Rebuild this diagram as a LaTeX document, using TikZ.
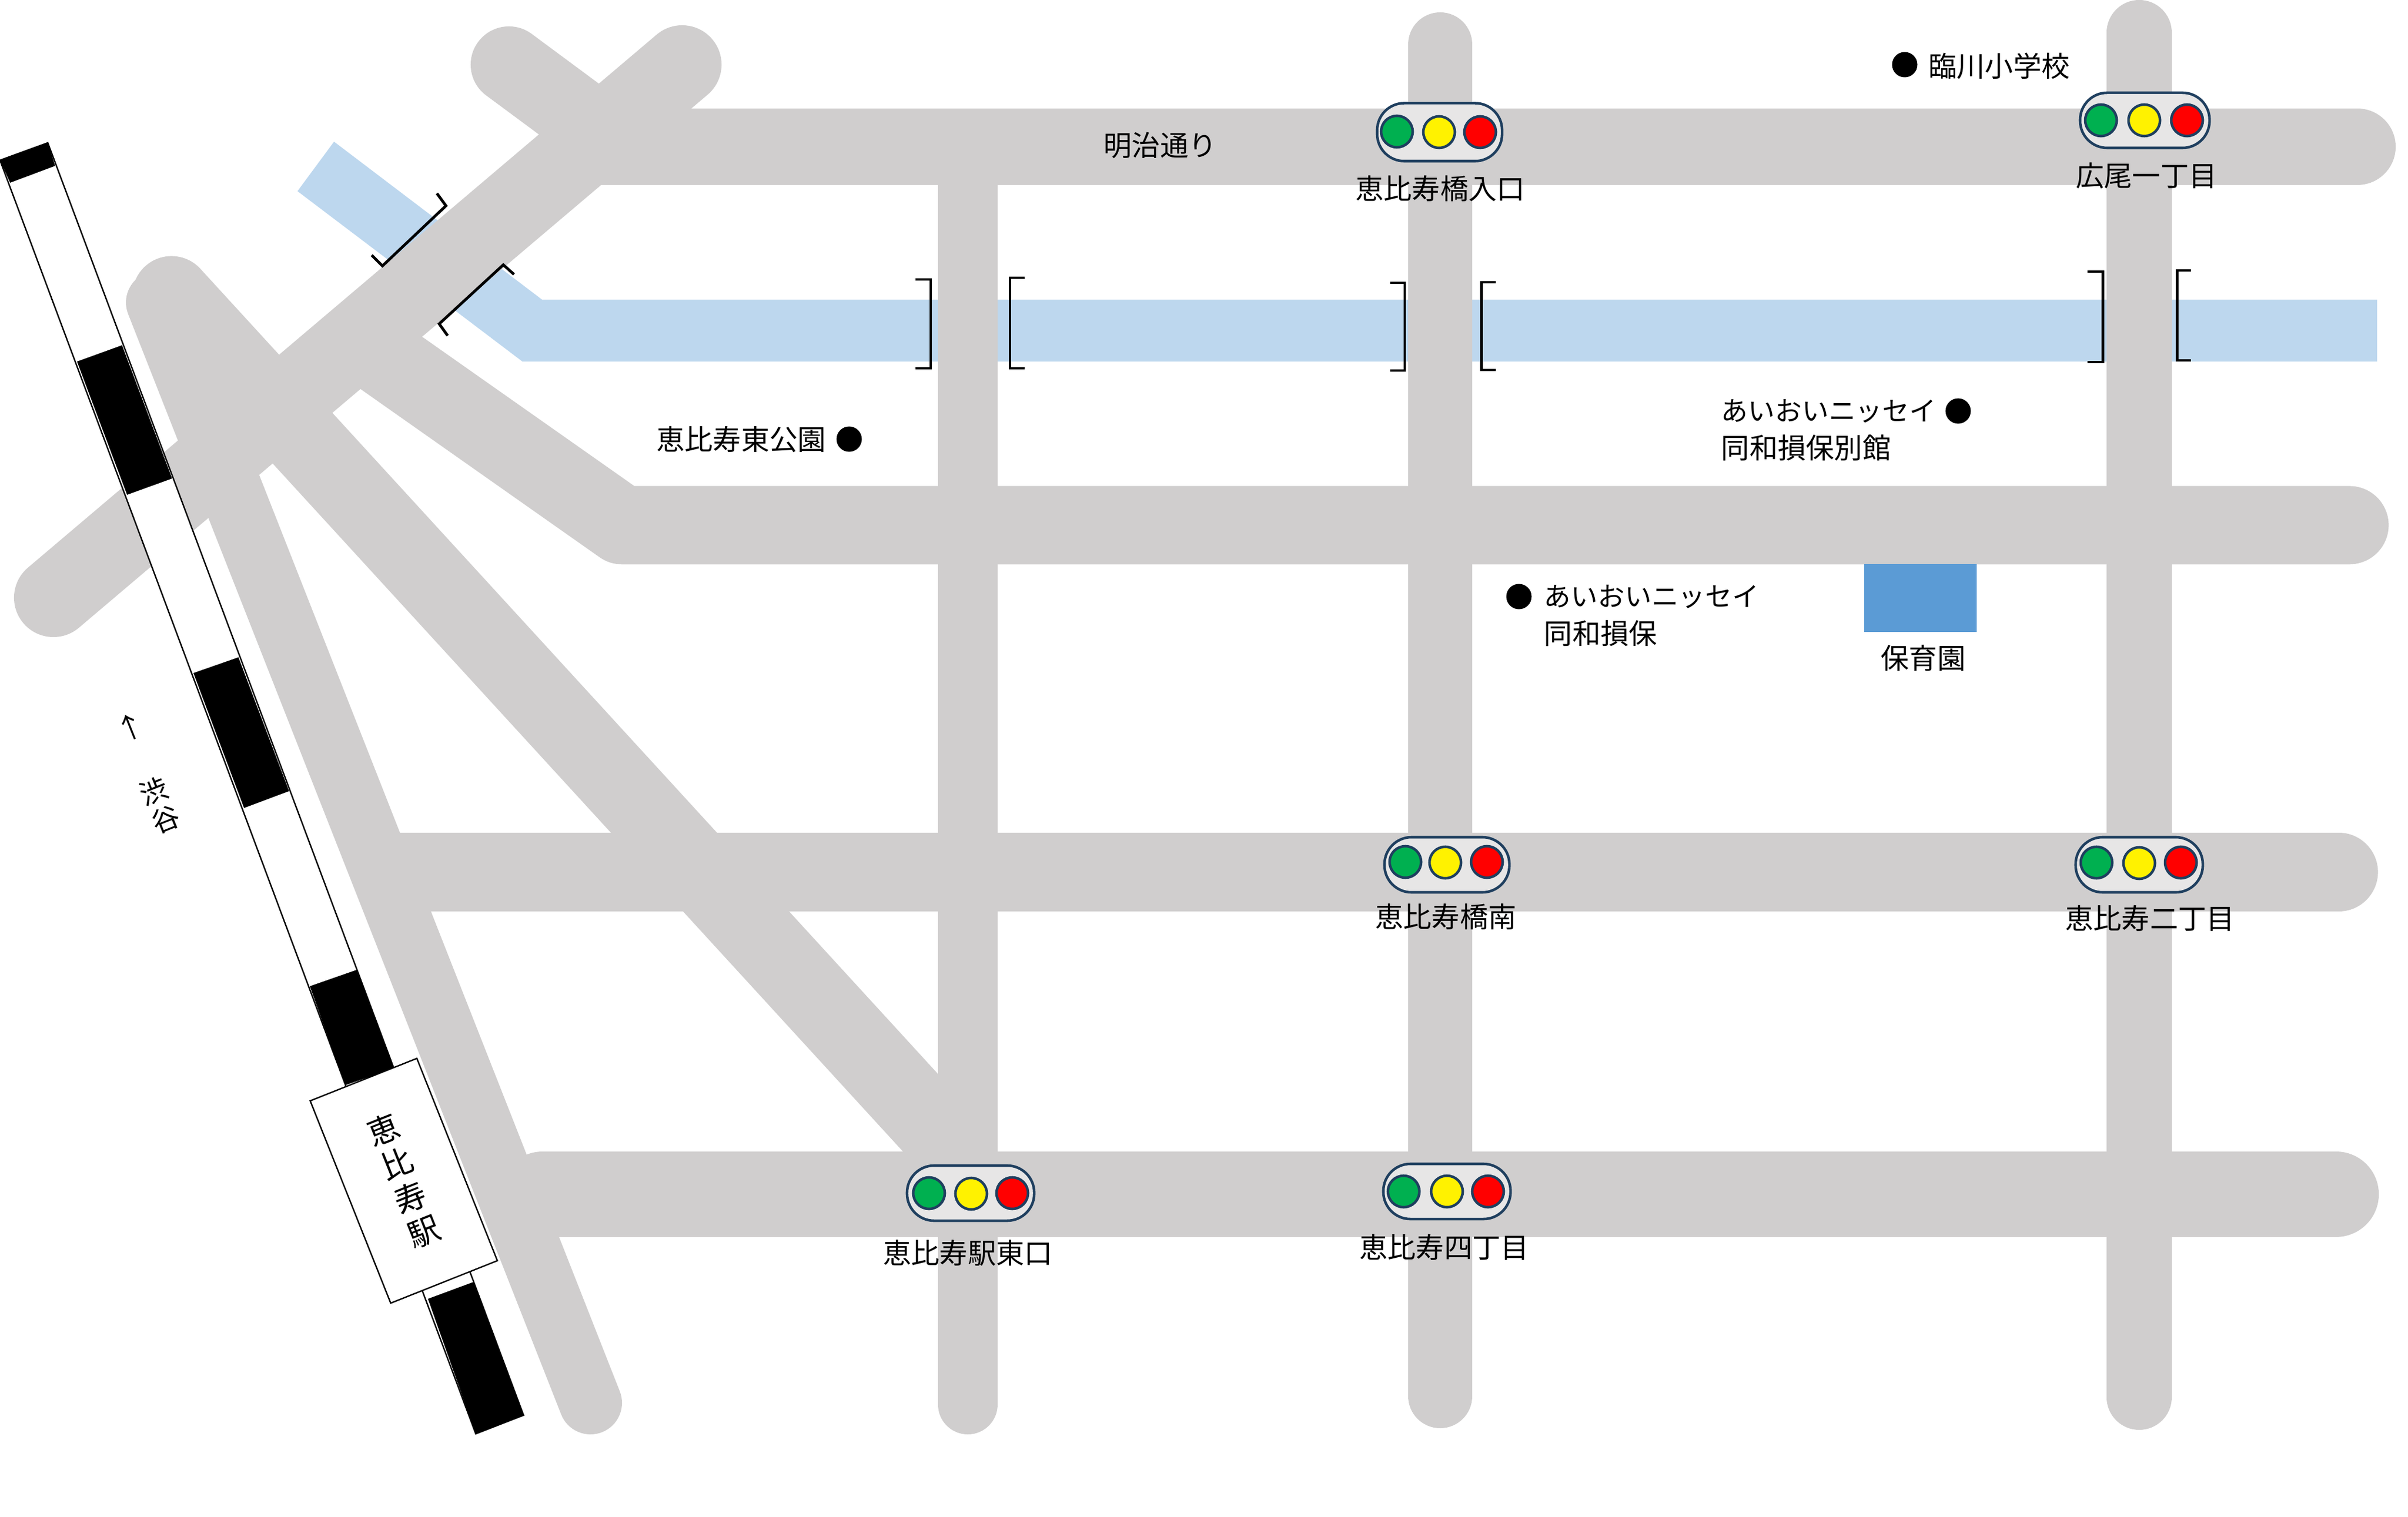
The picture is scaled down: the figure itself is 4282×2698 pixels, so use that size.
\documentclass[tikz,border=0pt]{standalone}
\usepackage{fontspec}
\setmainfont{Noto Sans CJK JP}
\definecolor{roadgray}{HTML}{D0CECE}
\definecolor{rivercol}{HTML}{BDD7EE}
\definecolor{nurserycol}{HTML}{5B9BD5}
\definecolor{signalline}{HTML}{1F3F5F}
\definecolor{signalfill}{HTML}{E7E6E6}
\definecolor{lampgreen}{HTML}{00B050}

\begin{document}
\begin{tikzpicture}[x=0.01cm,y=-0.01cm,
	road/.style = {draw=roadgray,line cap=round,line join=round,line width=#1},
	bridge/.style = {draw=black,line width=1.4pt},
	rail/.style = {draw=black,fill=white,line width=0.7pt},
	signal/.style = {draw=signalline,fill=signalfill,line width=1.3pt,rounded corners=0.48cm,minimum width=2.22cm,minimum height=0.98cm,inner sep=0},
	lamp/.style = {draw=signalline,line width=1.3pt,circle,minimum size=0.56cm,inner sep=0},
	dot/.style = {fill=black,circle,minimum size=0.45cm,inner sep=0},
	txt/.style = {font=\fontsize{14.3pt}{18.8pt}\selectfont,inner sep=0,align=left}
	]
	\useasboundingbox (0,0) rectangle (4282,2698);
	%RIVER
	\fill[rivercol] (594,252) -- (964,533) -- (4227,533) -- (4227,643) -- (929,643) -- (529,340) -- cycle;
	%ROADS
	\draw[road=1.4cm] (1213,115) -- (95,1063);
	\draw[road=1.36cm] (905,115) -- (1040,215);
	\draw[road=1.36cm,line cap=butt] (1050,261) -- (1300,261);
	\draw[road=1.36cm] (1300,261) -- (4192,261);
	\draw[road=1.39cm] (637,604) -- (1106,934) -- (4178,934);
	\draw[road=1.39cm] (305,525) -- (1700,2048);
	\draw[road=1.12cm] (280,538) -- (1050,2495);
	\draw[road=1.39cm,line cap=butt] (700,1551) -- (1000,1551);
	\draw[road=1.39cm] (1000,1551) -- (4159,1551);
	\draw[road=1.52cm] (965,2124) -- (4154,2124);
	\draw[road=1.06cm] (1721,261) -- (1721,2498);
	\draw[road=1.14cm] (2561,79) -- (2561,2483);
	\draw[road=1.16cm] (3804,58) -- (3804,2485);
	%NURSERY
	\fill[nurserycol] (3315,1003) rectangle (3515,1124);
	\node[txt] (@nursery) at (3420,1170) {保育園};
	%RAILWAY
	\draw[rail] (0,285) -- (85,254) -- (931,2517) -- (846,2550) -- cycle;
	\fill (0,285) -- (85,254) -- (98,295) -- (18,325) -- cycle;
	\fill (137,643) -- (217,614) -- (306,851) -- (226,880) -- cycle;
	\fill (344,1197) -- (424,1169) -- (514,1407) -- (434,1437) -- cycle;
	\fill (551,1754) -- (634,1725) -- (700,1900) -- (614,1930) -- cycle;
	\fill (761,2310) -- (842,2280) -- (931,2517) -- (846,2550) -- cycle;
	\node[rail,rotate=21.7,minimum width=2.04cm,minimum height=3.87cm,align=center,font=\fontsize{16pt}{18.5pt}\selectfont] (@station) at (718,2100) {恵\\比\\寿\\駅};
	\node[txt,rotate=21.7,align=center] (@arrow) at (232,1293) {↑};
	\node[txt,rotate=21.7,align=center,font=\fontsize{14pt}{15.5pt}\selectfont] (@shibuya) at (284,1432) {渋\\谷};
	%BRIDGES
	\draw[bridge] (777,344) -- (793,366) -- (680,473) -- (661,454);
	\draw[bridge] (914,488) -- (895,471) -- (781,576) -- (796,597);
	\draw[bridge] (1628,497) -- (1655,497) -- (1655,655) -- (1628,655);
	\draw[bridge] (1822,494) -- (1796,494) -- (1796,655) -- (1822,655);
	\draw[bridge] (2472,503) -- (2498,503) -- (2498,659) -- (2472,659);
	\draw[bridge] (2660,502) -- (2634,502) -- (2634,658) -- (2660,658);
	\draw[bridge] (3712,483) -- (3739,483) -- (3739,644) -- (3712,644);
	\draw[bridge] (3896,481) -- (3871,481) -- (3871,641) -- (3896,641);
	%SIGNALS
	\node[signal,minimum height=1.03cm] (@hashi) at (2560,235) {};
	\node[lamp,fill=lampgreen] (@hashig) at (2484,234) {};
	\node[lamp,fill=yellow] (@hashiy) at (2559,235) {};
	\node[lamp,fill=red] (@hashir) at (2632,235) {};
	\node[txt] (@hashit) at (2561,335) {恵比寿橋入口};
	\node[signal,minimum width=2.3cm] (@hiroo) at (3814,214) {};
	\node[lamp,fill=lampgreen] (@hiroog) at (3736,214) {};
	\node[lamp,fill=yellow] (@hirooy) at (3813,214) {};
	\node[lamp,fill=red] (@hiroor) at (3889,214) {};
	\node[txt] (@hiroot) at (3817,313) {広尾一丁目};
	\node[signal] (@minami) at (2573,1538) {};
	\node[lamp,fill=lampgreen] (@minamig) at (2499,1533) {};
	\node[lamp,fill=yellow] (@minamiy) at (2570,1534) {};
	\node[lamp,fill=red] (@minamir) at (2644,1533) {};
	\node[txt] (@minamit) at (2571,1630) {恵比寿橋南};
	\node[signal,minimum width=2.26cm] (@nichome) at (3804,1538) {};
	\node[lamp,fill=lampgreen] (@nichomeg) at (3728,1534) {};
	\node[lamp,fill=yellow] (@nichomey) at (3804,1535) {};
	\node[lamp,fill=red] (@nichomer) at (3878,1534) {};
	\node[txt] (@nichomet) at (3823,1633) {恵比寿二丁目};
	\node[signal,minimum width=2.26cm] (@yon) at (2573,2119) {};
	\node[lamp,fill=lampgreen] (@yong) at (2496,2119) {};
	\node[lamp,fill=yellow] (@yony) at (2573,2119) {};
	\node[lamp,fill=red] (@yonr) at (2646,2119) {};
	\node[txt] (@yont) at (2568,2218) {恵比寿四丁目};
	\node[signal,minimum width=2.26cm] (@eki) at (1726,2122) {};
	\node[lamp,fill=lampgreen] (@ekig) at (1652,2122) {};
	\node[lamp,fill=yellow] (@ekiy) at (1727,2123) {};
	\node[lamp,fill=red] (@ekir) at (1800,2122) {};
	\node[txt] (@ekit) at (1721,2228) {恵比寿駅東口};
	%LABELS
	\node[txt] (@meiji) at (2063,259) {明治通り};
	\node[dot] (@rinsend) at (3387,115) {};
	\node[txt] (@rinsen) at (3555,117) {臨川小学校};
	\node[dot] (@parkd) at (1510,781) {};
	\node[txt] (@park) at (1318,781) {恵比寿東公園};
	\node[dot] (@annexd) at (3482,731) {};
	\node[txt,anchor=west] (@annex) at (3060,765) {{\fontsize{13.6pt}{18.8pt}\selectfont あいおいニッセイ}\\同和損保別館};
	\node[dot] (@insured) at (2701,1061) {};
	\node[txt,anchor=west] (@insure) at (2745,1095) {{\fontsize{13.6pt}{18.8pt}\selectfont あいおいニッセイ}\\同和損保};
\end{tikzpicture}
\end{document}
